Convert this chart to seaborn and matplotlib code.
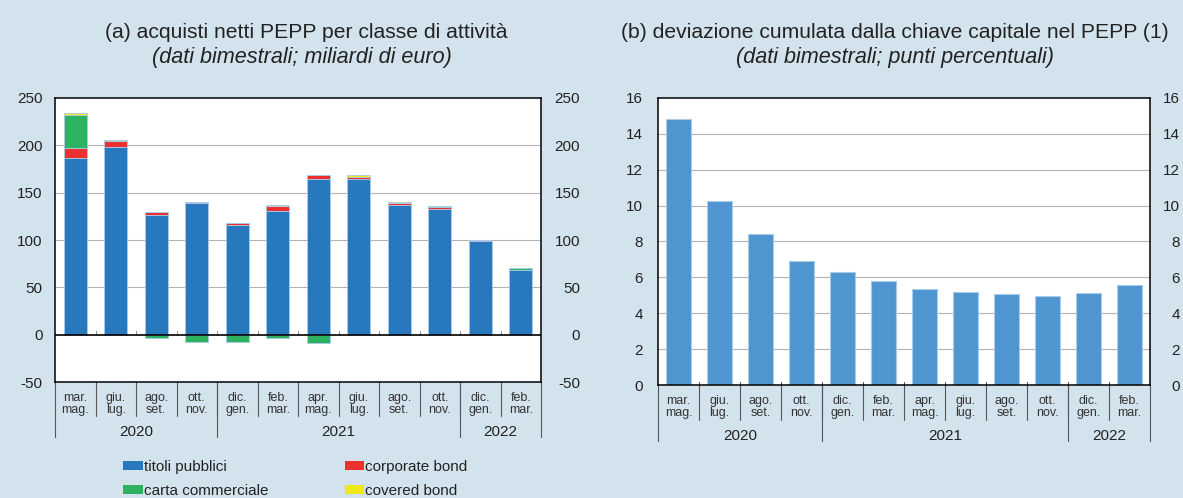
import numpy as np
import matplotlib
matplotlib.use("Agg")
import matplotlib.pyplot as plt
import matplotlib.transforms as mtransforms
from matplotlib.patches import Patch
import seaborn as sns

# data
periods = ["2020-03", "2020-06", "2020-08", "2020-10", "2020-12", "2021-02",
           "2021-04", "2021-06", "2021-08", "2021-10", "2021-12", "2022-02"]
month_labels = ["mar.\nmag.", "giu.\nlug.", "ago.\nset.", "ott.\nnov.", "dic.\ngen.", "feb.\nmar.",
                "apr.\nmag.", "giu.\nlug.", "ago.\nset.", "ott.\nnov.", "dic.\ngen.", "feb.\nmar."]
years = ["2020", "2021", "2022"]
year_counts = [4, 6, 2]

titoli_pubblici = [187, 198, 126.5, 139.5, 116, 131, 164.5, 164.5, 136.5, 132.5, 99, 68]
corporate_bond = [10.5, 6.5, 3, 1, 1.5, 5, 4, 2.5, 2.5, 2.5, 0.8, 0]
carta_commerciale = [35, -0.5, -3, -8, -8, -4, -8.5, -0.5, -0.5, 1, 0, 2]
covered_bond = [2, 1, 0, 0, 0.3, 0.8, 0, 1.8, 0.8, 0, 0, 0]

deviazione = [14.8, 10.25, 8.4, 6.92, 6.3, 5.82, 5.37, 5.19, 5.06, 4.97, 5.12, 5.56]

BG = "#d3e3ed"
BLUE = "#2878bd"
RED = "#ec2f2f"
GREEN = "#2db35f"
YELLOW = "#f1e81a"
LIGHT = "#4f96d0"
EDGE = "#a9cbe8"

sns.set_theme(style="white")
plt.rcParams["font.family"] = ["Liberation Sans", "DejaVu Sans"]

fig = plt.figure(figsize=(11.83, 4.98), dpi=100, facecolor=BG)
ax1 = fig.add_axes([55 / 1183, 1 - 382 / 498, 486 / 1183, 284 / 498])
ax2 = fig.add_axes([658 / 1183, 1 - 385.3 / 498, 492 / 1183, 287.6 / 498])

# ---- panel (a): stacked bars
tp = np.array(titoli_pubblici)
cb = np.array(corporate_bond)
cc = np.array(carta_commerciale)
cv = np.array(covered_bond)
cc_pos = np.clip(cc, 0, None)
cc_neg = np.clip(cc, None, 0)

kw = dict(x=periods, order=periods, errorbar=None, saturation=1, width=0.57,
          ax=ax1, edgecolor=EDGE, linewidth=0.6)
sns.barplot(y=tp, color=BLUE, **kw)
sns.barplot(y=cb, bottom=tp, color=RED, **kw)
sns.barplot(y=cc_pos, bottom=tp + cb, color=GREEN, **kw)
sns.barplot(y=cv, bottom=tp + cb + cc_pos, color=YELLOW, **kw)
sns.barplot(y=cc_neg, color=GREEN, **kw)

# ---- panel (b)
sns.barplot(x=periods, y=deviazione, order=periods, errorbar=None, saturation=1,
            width=0.63, color=LIGHT, edgecolor=EDGE, linewidth=0.8, ax=ax2)


def style_axis(ax, ylim, yticks, pad_left, extra_right, bottom_ticks):
    ax.set_facecolor("white")
    ax.set_xlim(-0.5, len(periods) - 0.5)
    ax.set_ylim(*ylim)
    ax.set_yticks(yticks)
    ax.set_yticklabels([str(t) for t in yticks])
    ax.set_xlabel("")
    ax.set_ylabel("")
    ax.tick_params(axis="y", length=0, labelsize=11, colors="#222222",
                   labelright=True, pad=pad_left)
    # right-hand labels are right aligned, a little further out
    off = mtransforms.ScaledTranslation(extra_right / 72, 0, fig.dpi_scale_trans)
    for t in ax.yaxis.get_major_ticks():
        t.label2.set_horizontalalignment("right")
        t.label2.set_transform(t.label2.get_transform() + off)
    ax.set_xticks(range(len(periods)), month_labels, fontsize=9, color="#333333",
                  linespacing=1.0)
    ax.tick_params(axis="x", length=0, pad=7)
    for g in yticks:
        if ylim[0] < g < ylim[1] and g != 0:
            ax.axhline(g, color="#b3b3b3", lw=0.8, zorder=0)
    for s in ax.spines.values():
        s.set_color("black")
        s.set_linewidth(1.1)
        s.set_visible(True)
    trans = mtransforms.blended_transform_factory(ax.transData, ax.transAxes)
    # separators under the axis
    for i in range(1, len(periods)):
        ax.plot([i - 0.5, i - 0.5], [bottom_ticks, -0.12], color="#555555", lw=0.8,
                transform=trans, clip_on=False)
    edges = np.concatenate([[0], np.cumsum(year_counts)]) - 0.5
    for e in edges:
        ax.plot([e, e], [0, -0.195], color="#555555", lw=0.8, transform=trans, clip_on=False)
    for y, a, b in zip(years, edges[:-1], edges[1:]):
        ax.text((a + b) / 2, -0.175, y, transform=trans, ha="center", va="center",
                fontsize=11, color="#222222")


style_axis(ax1, (-50, 250), [-50, 0, 50, 100, 150, 200, 250], 9, 19, 0)
style_axis(ax2, (0, 16), [0, 2, 4, 6, 8, 10, 12, 14, 16], 11, 10.5, 0.012)
ax1.axhline(0, color="black", lw=1.2, zorder=5)
for i in range(1, len(periods)):
    ax1.plot([i - 0.5, i - 0.5], [0, 3.5], color="#999999", lw=0.8, zorder=4)

# titles
fig.text(306 / 1183, 1 - 33 / 498, "(a) acquisti netti PEPP per classe di attività",
         ha="center", va="center", fontsize=15.2, color="#222222")
fig.text(302 / 1183, 1 - 57 / 498, "(dati bimestrali; miliardi di euro)",
         ha="center", va="center", fontsize=15.6, style="italic", color="#222222")
fig.text(895 / 1183, 1 - 33 / 498, "(b) deviazione cumulata dalla chiave capitale nel PEPP (1)",
         ha="center", va="center", fontsize=15.2, color="#222222")
fig.text(895 / 1183, 1 - 57 / 498, "(dati bimestrali; punti percentuali)",
         ha="center", va="center", fontsize=15.6, style="italic", color="#222222")

# legend
handles = [Patch(facecolor=BLUE, edgecolor="none", label="titoli pubblici"),
           Patch(facecolor=GREEN, edgecolor="none", label="carta commerciale"),
           Patch(facecolor=RED, edgecolor="none", label="corporate bond"),
           Patch(facecolor=YELLOW, edgecolor="none", label="covered bond")]
fig.legend(handles=handles, ncol=2, loc="upper left",
           bbox_to_anchor=(123 / 1183, 1 - 460 / 498), frameon=False, fontsize=11,
           handlelength=1.3, handleheight=0.6, handletextpad=0.05, columnspacing=5.0,
           borderpad=0, borderaxespad=0, labelspacing=0.65, labelcolor="#222222")

fig.savefig("out.png", dpi=100, facecolor=BG)
